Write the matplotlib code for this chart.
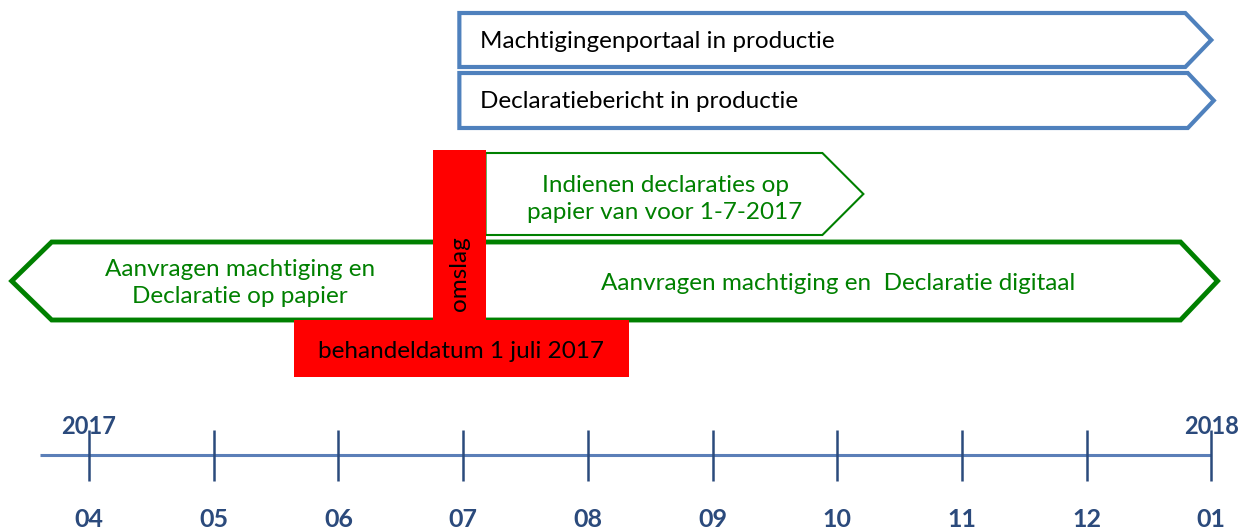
import matplotlib.pyplot as plt
from matplotlib.patches import Polygon, Rectangle

plt.rcParams['font.family'] = ['Lato', 'DejaVu Sans']

# timeline: month index 0 = april 2017 ... 9 = januari 2018
months = ['04', '05', '06', '07', '08', '09', '10', '11', '12', '01']
years = ['2017', '2018']
year_pos = [0, 9]

# blue phases (start, end in months)
blue_labels = ['Machtigingenportaal in productie', 'Declaratiebericht in productie']
blue_start = [2.97, 2.97]
blue_end = [9.0, 9.02]

# green phases
paper_label = 'Indienen declaraties op\npapier van voor 1-7-2017'
paper_start, paper_end = 3.18, 6.21
old_label = 'Aanvragen machtiging en\nDeclaratie op papier'
old_start, old_end = -0.62, 2.97
new_label = 'Aanvragen machtiging en  Declaratie digitaal'
new_start, new_end = 3.10, 9.05

# switch moment (red T)
switch_label = 'omslag'
switch_start, switch_end = 2.76, 3.18
date_label = 'behandeldatum 1 juli 2017'
date_start, date_end = 1.64, 4.33

PX = 124.7  # pixels per month
X0 = -89 / PX
BLUE = '#4F81BD'
GREEN = '#008000'
NAVY = '#2B4A7C'
FS = 17.5

fig = plt.figure(figsize=(12.47, 5.30), dpi=100)
ax = fig.add_axes([0, 0, 1, 1])
ax.set_xlim(X0, (1247 - 89) / PX)
ax.set_ylim(530, 0)
ax.axis('off')


def arrow_right(x0, x1, top, bot, head, **kw):
    mid = (top + bot) / 2
    pts = [(x0, top), (x1 - head, top), (x1, mid), (x1 - head, bot), (x0, bot)]
    ax.add_patch(Polygon(pts, closed=True, facecolor='white', joinstyle='miter', **kw))


def arrow_left(x0, x1, top, bot, head, **kw):
    mid = (top + bot) / 2
    pts = [(x1, top), (x0 + head, top), (x0, mid), (x0 + head, bot), (x1, bot)]
    ax.add_patch(Polygon(pts, closed=True, facecolor='white', joinstyle='miter', **kw))


# blue arrows
rows = [(13, 67), (73, 128)]
for lab, s, e, (t, b) in zip(blue_labels, blue_start, blue_end, rows):
    arrow_right(s, e, t, b, 26 / PX, edgecolor=BLUE, linewidth=3)
    ax.text(s + 21 / PX, (t + b) / 2 + 1, lab, fontsize=FS, color='black', va='center', ha='left')

# green arrows
arrow_right(paper_start, paper_end, 153, 235, 41 / PX, edgecolor=GREEN, linewidth=1.5)
ax.text(X0 + 665 / PX, 199, paper_label, fontsize=FS, color=GREEN,
        ha='center', va='center', linespacing=1.32)

arrow_left(old_start, old_end, 242, 320, 40 / PX, edgecolor=GREEN, linewidth=3.5)
ax.text(X0 + 240 / PX, 283, old_label, fontsize=FS, color=GREEN,
        ha='center', va='center', linespacing=1.32)

arrow_right(new_start, new_end, 242, 320, 37 / PX, edgecolor=GREEN, linewidth=3.5)
ax.text(X0 + 838 / PX, 283, new_label, fontsize=FS, color=GREEN,
        ha='center', va='center')

# red T
ax.add_patch(Rectangle((switch_start, 150), switch_end - switch_start, 172,
                       facecolor='red', edgecolor='none'))
ax.add_patch(Rectangle((date_start, 320), date_end - date_start, 57,
                       facecolor='red', edgecolor='none'))
ax.text((switch_start + switch_end) / 2, 274, switch_label, rotation=90, fontsize=FS,
        color='black', ha='center', va='center')
ax.text((date_start + date_end) / 2, 351, date_label, fontsize=FS, color='black',
        ha='center', va='center')

# timeline
ax.plot([-49 / PX, len(months) - 1], [455, 455], color='#5B7FB8', linewidth=2.2,
        solid_capstyle='butt')
for i, m in enumerate(months):
    ax.plot([i, i], [430, 481], color=NAVY, linewidth=1.8, solid_capstyle='butt')
    ax.text(i, 508, m, fontsize=18, fontweight='bold', color=NAVY, ha='center', va='top')
for y, p in zip(years, year_pos):
    ax.text(p, 438, y, fontsize=17, fontweight='bold', color=NAVY, ha='center', va='bottom')

fig.savefig('out.png', dpi=100)
